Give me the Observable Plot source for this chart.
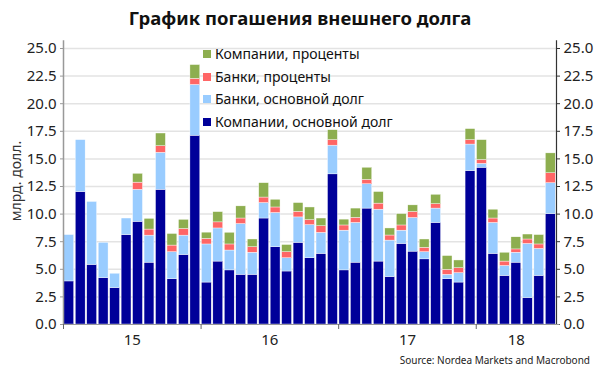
<!DOCTYPE html>
<html><head><meta charset="utf-8">
<script src="https://cdn.jsdelivr.net/npm/d3@7"></script>
<script src="https://cdn.jsdelivr.net/npm/@observablehq/plot@0.6"></script>
<style>
body{margin:0;background:#fff;font-family:"Noto Sans",sans-serif;}
#wrap{position:relative;width:600px;height:378px;overflow:hidden;background:#fff}
#title{position:absolute;top:5px;left:0;width:600px;text-align:center;font-weight:bold;font-size:18.5px;color:#111;line-height:26px}
#chart{position:absolute;top:36px;left:0}
#ylab{position:absolute;left:-34px;top:172px;width:100px;text-align:center;transform:rotate(-90deg);font-size:14px;color:#333;line-height:18px}
#legend{position:absolute;left:203px;top:43px;font-size:14px;color:#111}
#legend div{height:22.5px;line-height:22px;white-space:nowrap}
#legend span.sw{display:inline-block;width:8px;height:8px;margin-right:4px;vertical-align:middle;position:relative;top:-1px}
#source{position:absolute;right:10px;top:353px;font-size:10px;color:#222}
</style></head>
<body>
<div id="wrap">
  <div id="title">График погашения внешнего долга</div>
  <div id="chart"></div>
  <div id="ylab">млрд. долл.</div>
  <div id="legend"></div>
  <div id="source">Source: Nordea Markets and Macrobond</div>
</div>
<script>
const years = ["15","16","17","18"];
const monthsPerYear = [12,12,12,7];
const seriesNames = ["Компании, основной долг","Банки, основной долг","Банки, проценты","Компании, проценты"];
const seriesColors = ["#000099","#99CCFF","#FF6666","#8DAE4F"];
const legendOrder = ["Компании, проценты","Банки, проценты","Банки, основной долг","Компании, основной долг"];
const yTicks = [0,2.5,5,7.5,10,12.5,15,17.5,20,22.5,25];

const companyPrincipal = [
  3.9,12.0,5.4,4.2,3.3,8.1,9.3,5.6,12.2,4.1,6.3,17.1,
  3.8,5.7,4.9,4.5,4.5,9.6,7.0,4.8,7.4,6.0,6.4,13.6,
  4.9,5.6,10.5,5.7,4.3,7.3,6.6,5.9,9.2,4.1,3.8,13.9,
  14.2,6.4,4.4,5.6,2.4,4.4,10.0];
const bankPrincipal = [
  4.2,4.7,5.7,3.2,1.3,1.5,2.9,2.45,3.35,2.45,1.75,4.6,
  3.45,3.0,1.8,4.6,2.0,1.4,3.1,1.2,2.3,3.0,1.9,2.6,
  3.6,3.6,2.2,4.7,3.3,1.2,3.05,0.65,1.3,0.4,0.85,2.4,
  0.35,2.8,0.9,0.9,4.9,2.45,2.8];
const bankInterest = [
  0,0,0,0,0,0,0.65,0.55,0.6,0.6,0.6,0.55,
  0.5,0.55,0.55,0.5,0.5,0.5,0.5,0.55,0.5,0.45,0.6,0.5,
  0.47,0.46,0.4,0.55,0.46,0.47,0.54,0.4,0.4,0.45,0.45,0.4,
  0.35,0.4,0.4,0.3,0.4,0.4,0.9];
const companyInterest = [
  0,0,0,0,0,0,0.8,0.97,1.15,1.05,0.83,1.25,
  0.57,0.93,1.06,1.1,0.7,1.3,0.7,0.65,0.8,1.15,0.7,0.9,
  0.53,0.84,1.1,1.05,0.64,1.03,0.6,0.75,0.85,1.25,0.7,1.0,
  1.8,0.8,0.8,1.1,0.45,0.85,1.8];

const seriesValues = [companyPrincipal, bankPrincipal, bankInterest, companyInterest];
const rows = [];
companyPrincipal.forEach((_, m) => {
  seriesNames.forEach((s, k) => rows.push({m0: m, m1: m + 1, series: s, value: seriesValues[k][m]}));
});
const nMonths = companyPrincipal.length;
const yearStarts = [];
const yearCenters = [];
let acc = 0;
monthsPerYear.forEach(n => { yearStarts.push(acc); yearCenters.push(acc + n / 2); acc += n; });

const chart = Plot.plot({
  width: 600, height: 318,
  marginLeft: 63, marginRight: 44, marginTop: 12, marginBottom: 30,
  style: {fontFamily: "Noto Sans, sans-serif", fontSize: "14px", color: "#222", background: "transparent"},
  x: {domain: [0, nMonths], axis: null},
  y: {domain: [0, 25], axis: null},
  color: {domain: seriesNames, range: seriesColors},
  marks: [
    Plot.gridY(yTicks.slice(1), {stroke: "#e3e3e3", strokeOpacity: 1, strokeWidth: 1.5}),
    Plot.rectY(rows, {x1: "m0", x2: "m1", y: "value", fill: "series", order: seriesNames,
      insetLeft: 0.8, insetRight: 0.8, stroke: "#fff", strokeWidth: 0.4}),
    Plot.axisY(yTicks, {anchor: "left", label: null, tickFormat: d3.format(".1f"), tickSize: 3, tickPadding: 4, stroke: "#999", fontSize: 15}),
    Plot.axisY(yTicks, {anchor: "right", label: null, tickFormat: d3.format(".1f"), tickSize: 3, tickPadding: 4, stroke: "#333", fontSize: 15}),
    Plot.ruleX([0], {stroke: "#999", strokeWidth: 1.5, y1: 0, y2: 25.7}),
    Plot.ruleX([nMonths], {stroke: "#333", strokeWidth: 1.2, y1: 0, y2: 25.7}),
    Plot.ruleY([0], {stroke: "#999", strokeWidth: 1.2, x1: 0, x2: nMonths + 0.3}),
    Plot.axisX(yearStarts, {anchor: "bottom", label: null, tickFormat: () => "", tickSize: 5, stroke: "#666"}),
    Plot.axisX(yearCenters, {anchor: "bottom", label: null, tickFormat: d => years[yearCenters.indexOf(d)], tickSize: 0, tickPadding: 10, fontSize: 15})
  ]
});
document.getElementById("chart").appendChild(chart);

const colorOf = Object.fromEntries(seriesNames.map((s, i) => [s, seriesColors[i]]));
const leg = document.getElementById("legend");
legendOrder.forEach(s => {
  const d = document.createElement("div");
  d.innerHTML = `<span class="sw" style="background:${colorOf[s]}"></span>${s}`;
  leg.appendChild(d);
});
</script>
</body></html>
